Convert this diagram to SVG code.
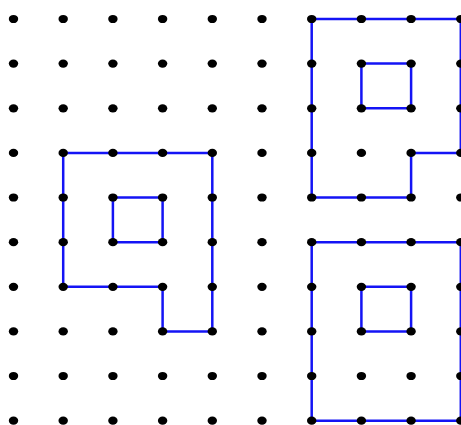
<svg xmlns="http://www.w3.org/2000/svg" width="461" height="425" viewBox="0 0 461 425">
<defs>
<style>
.ln{fill:none;stroke:#1414f5;stroke-width:2.5;stroke-linejoin:miter}
.d{fill:#000}
</style>
<ellipse id="dot" class="d" cx="0" cy="0" rx="4.7" ry="4.1"/>
</defs>
<rect width="461" height="425" fill="#fff"/>
<g id="shapes">
<g id="shape-left">
<path class="ln" d="M63.2,152.9 H212.3 V331.4 H162.6 V286.8 H63.2 Z"/>
<path class="ln" d="M112.9,197.5 H162.6 V242.2 H112.9 Z"/>
</g>
<g id="shape-top-right">
<path class="ln" d="M311.7,19 H460.8 V152.9 H411.1 V197.5 H311.7 Z"/>
<path class="ln" d="M361.4,63.6 H411.1 V108.3 H361.4 Z"/>
</g>
<g id="shape-bottom-right">
<path class="ln" d="M311.7,242.2 H460.8 V420.7 H311.7 Z"/>
<path class="ln" d="M361.4,286.8 H411.1 V331.4 H361.4 Z"/>
</g>
</g>
<g id="dots">
<g transform="translate(0,19)"><use href="#dot" x="13.5"/><use href="#dot" x="63.2"/><use href="#dot" x="112.9"/><use href="#dot" x="162.6"/><use href="#dot" x="212.3"/><use href="#dot" x="262"/><use href="#dot" x="311.7"/><use href="#dot" x="361.4"/><use href="#dot" x="411.1"/><use href="#dot" x="460.8"/></g>
<g transform="translate(0,63.6)"><use href="#dot" x="13.5"/><use href="#dot" x="63.2"/><use href="#dot" x="112.9"/><use href="#dot" x="162.6"/><use href="#dot" x="212.3"/><use href="#dot" x="262"/><use href="#dot" x="311.7"/><use href="#dot" x="361.4"/><use href="#dot" x="411.1"/><use href="#dot" x="460.8"/></g>
<g transform="translate(0,108.3)"><use href="#dot" x="13.5"/><use href="#dot" x="63.2"/><use href="#dot" x="112.9"/><use href="#dot" x="162.6"/><use href="#dot" x="212.3"/><use href="#dot" x="262"/><use href="#dot" x="311.7"/><use href="#dot" x="361.4"/><use href="#dot" x="411.1"/><use href="#dot" x="460.8"/></g>
<g transform="translate(0,152.9)"><use href="#dot" x="13.5"/><use href="#dot" x="63.2"/><use href="#dot" x="112.9"/><use href="#dot" x="162.6"/><use href="#dot" x="212.3"/><use href="#dot" x="262"/><use href="#dot" x="311.7"/><use href="#dot" x="361.4"/><use href="#dot" x="411.1"/><use href="#dot" x="460.8"/></g>
<g transform="translate(0,197.5)"><use href="#dot" x="13.5"/><use href="#dot" x="63.2"/><use href="#dot" x="112.9"/><use href="#dot" x="162.6"/><use href="#dot" x="212.3"/><use href="#dot" x="262"/><use href="#dot" x="311.7"/><use href="#dot" x="361.4"/><use href="#dot" x="411.1"/><use href="#dot" x="460.8"/></g>
<g transform="translate(0,242.2)"><use href="#dot" x="13.5"/><use href="#dot" x="63.2"/><use href="#dot" x="112.9"/><use href="#dot" x="162.6"/><use href="#dot" x="212.3"/><use href="#dot" x="262"/><use href="#dot" x="311.7"/><use href="#dot" x="361.4"/><use href="#dot" x="411.1"/><use href="#dot" x="460.8"/></g>
<g transform="translate(0,286.8)"><use href="#dot" x="13.5"/><use href="#dot" x="63.2"/><use href="#dot" x="112.9"/><use href="#dot" x="162.6"/><use href="#dot" x="212.3"/><use href="#dot" x="262"/><use href="#dot" x="311.7"/><use href="#dot" x="361.4"/><use href="#dot" x="411.1"/><use href="#dot" x="460.8"/></g>
<g transform="translate(0,331.4)"><use href="#dot" x="13.5"/><use href="#dot" x="63.2"/><use href="#dot" x="112.9"/><use href="#dot" x="162.6"/><use href="#dot" x="212.3"/><use href="#dot" x="262"/><use href="#dot" x="311.7"/><use href="#dot" x="361.4"/><use href="#dot" x="411.1"/><use href="#dot" x="460.8"/></g>
<g transform="translate(0,376)"><use href="#dot" x="13.5"/><use href="#dot" x="63.2"/><use href="#dot" x="112.9"/><use href="#dot" x="162.6"/><use href="#dot" x="212.3"/><use href="#dot" x="262"/><use href="#dot" x="311.7"/><use href="#dot" x="361.4"/><use href="#dot" x="411.1"/><use href="#dot" x="460.8"/></g>
<g transform="translate(0,420.7)"><use href="#dot" x="13.5"/><use href="#dot" x="63.2"/><use href="#dot" x="112.9"/><use href="#dot" x="162.6"/><use href="#dot" x="212.3"/><use href="#dot" x="262"/><use href="#dot" x="311.7"/><use href="#dot" x="361.4"/><use href="#dot" x="411.1"/><use href="#dot" x="460.8"/></g>
</g>
</svg>
